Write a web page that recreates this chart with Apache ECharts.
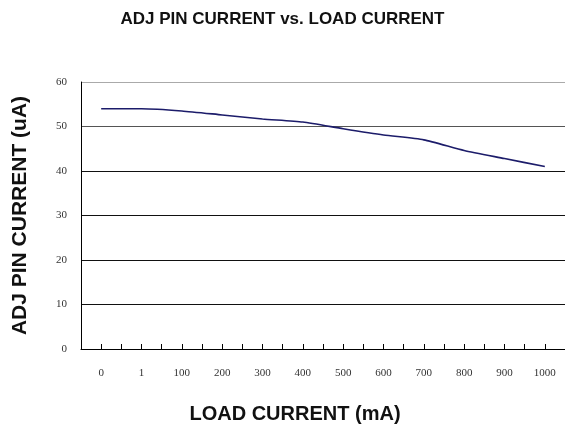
<!DOCTYPE html>
<html>
<head>
<meta charset="utf-8">
<script src="https://cdn.jsdelivr.net/npm/echarts@6/dist/echarts.min.js"></script>
<style>
  html, body { margin: 0; padding: 0; background: #fff; }
  #main { width: 565px; height: 439px; }
</style>
</head>
<body>
<div id="main"></div>
<script>
  // load current categories (mA)
  var loadCurrent = ['0', '1', '100', '200', '300', '400', '500', '600', '700', '800', '900', '1000'];
  // adj pin current (uA)
  var adjCurrent = [54.0, 54.0, 53.5, 52.6, 51.7, 51.0, 49.5, 48.1, 47.0, 44.6, 42.8, 41.0];
  var yTicks = [0, 10, 20, 30, 40, 50, 60];

  var points = [];
  for (var i = 0; i < adjCurrent.length; i++) {
    points.push([i, adjCurrent[i]]);
  }

  var option = {
    backgroundColor: '#fff',
    animation: false,
    title: {
      text: 'ADJ PIN CURRENT vs. LOAD CURRENT',
      left: 'center',
      top: 6,
      textStyle: { fontFamily: 'Liberation Sans', fontSize: 17, fontWeight: 'bold', color: '#111' }
    },
    grid: { left: 81, top: 82, width: 486, height: 267 },
    xAxis: {
      type: 'value',
      min: -0.5,
      max: 11.5,
      interval: 0.5,
      name: 'LOAD CURRENT (mA)',
      nameLocation: 'middle',
      nameGap: 55,
      nameTextStyle: {
        fontFamily: 'Liberation Sans', fontSize: 20, fontWeight: 'bold', color: '#111',
        padding: [0, 56, 0, 0]
      },
      axisLine: { onZero: false, lineStyle: { color: '#000', width: 1 } },
      axisTick: { inside: true, length: 5, lineStyle: { color: '#000' } },
      splitLine: { show: false },
      axisLabel: {
        margin: 19,
        fontFamily: 'Liberation Serif',
        fontSize: 11,
        color: '#333',
        showMinLabel: false,
        showMaxLabel: false,
        formatter: function (v) {
          return Number.isInteger(v) ? loadCurrent[v] : '';
        }
      }
    },
    yAxis: {
      type: 'value',
      min: yTicks[0],
      max: yTicks[yTicks.length - 1],
      interval: 10,
      name: 'ADJ PIN CURRENT (uA)',
      nameLocation: 'middle',
      nameGap: 50,
      nameTextStyle: { fontFamily: 'Liberation Sans', fontSize: 21, fontWeight: 'bold', color: '#111' },
      axisLine: { show: true, onZero: false, lineStyle: { color: '#000', width: 1 } },
      axisTick: { show: false },
      axisLabel: { margin: 14, fontFamily: 'Liberation Serif', fontSize: 11, color: '#333' },
      splitLine: {
        lineStyle: { color: ['#000', '#111', '#111', '#111', '#111', '#555', '#aaa'], width: 1 }
      }
    },
    series: [{
      type: 'line',
      data: points,
      smooth: 0.2,
      showSymbol: false,
      lineStyle: { color: '#1c1c6a', width: 1.6 }
    }]
  };

  var myChart = echarts.init(document.getElementById('main'));
  myChart.setOption(option);
</script>
</body>
</html>
